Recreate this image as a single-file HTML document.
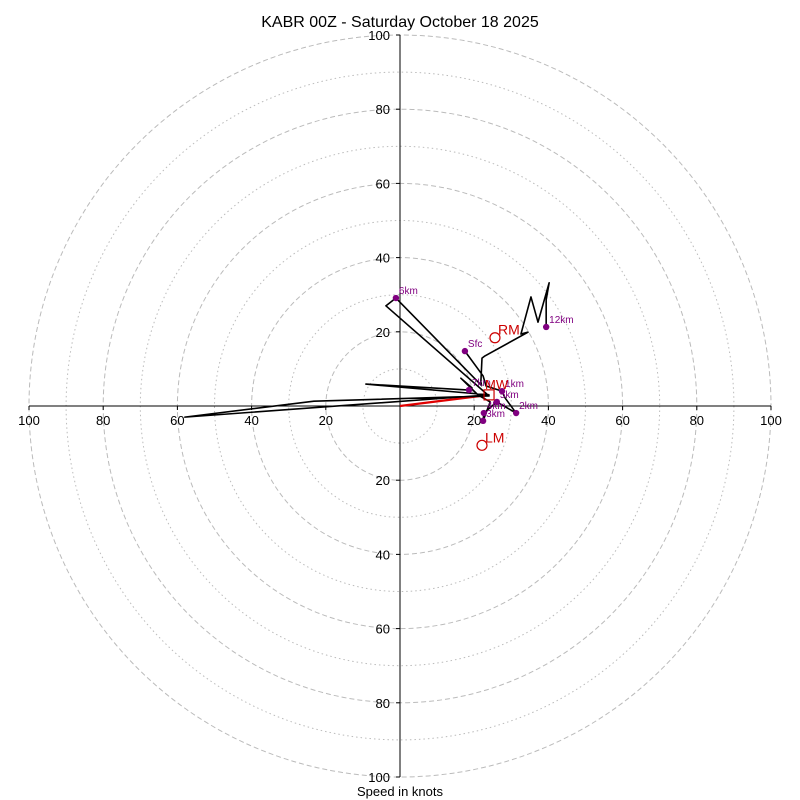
<!DOCTYPE html>
<html><head><meta charset="utf-8"><style>
body{margin:0;background:#fff;}
svg{display:block;font-family:"Liberation Sans",sans-serif;}
</style></head><body>
<svg id="c" width="800" height="800"></svg>
<script>
const hodoU=[17.5,22.4,23.2,27.5,28.3,31.3,26.1,22.6,22.4,24.3,21.0,16.4,19.4,18.6,-9.2,24.0,-58.0,-23.2,24.0,-3.8,-1.1,22.0,21.8,22.1,22.9,34.5,32.6,35.3,37.2,40.2,39.4,39.4];
const hodoV=[14.8,8.1,5.4,4.0,2.2,-1.9,1.1,-1.9,-4.0,1.1,3.0,7.5,4.9,4.3,5.9,3.0,-3.0,1.3,2.7,27.0,29.1,5.5,6.5,12.9,13.5,19.9,19.4,29.4,22.6,33.2,28.6,22.0];
const dotLabels=["Sfc","1km","2km","3km","4km","5km","6km","7km","12km"];
const dotU=[17.5,27.5,31.3,22.4,22.6,26.1,-1.1,18.6,39.4];
const dotV=[14.8,4.0,-1.9,-4.0,-1.9,1.1,29.1,4.3,21.3];
const meanU=[0,24.0];
const meanV=[0,3.0];
const rmU=25.6, rmV=18.4, lmU=22.1, lmV=-10.6, mwU=24.0, mwV=3.0;
const tickVals=[100,80,60,40,20];

const svg=document.getElementById('c');
const NS='http://www.w3.org/2000/svg';
const cx=400, cy=406, R=371, maxV=100;
const sx=u=>cx+u*R/maxV, sy=v=>cy-v*R/maxV;
function mk(t,a,p){const e=document.createElementNS(NS,t);for(const k in a)e.setAttribute(k,a[k]);(p||svg).appendChild(e);return e;}

for(let v=10;v<=100;v+=10){
  const e=mk('circle',{cx:cx,cy:cy,r:v*R/maxV,fill:'none',stroke:'#bbb','stroke-width':1,'stroke-dasharray':v%20==0?'5,3':'1.5,3'});
  
  
}
let ax=mk('line',{x1:cx,y1:sy(100),x2:cx,y2:sy(-100),stroke:'#000','stroke-width':1});


ax=mk('line',{x1:sx(-100),y1:cy,x2:sx(100),y2:cy,stroke:'#000','stroke-width':1});


tickVals.forEach(t=>{
  [[sx(-t),cy+15],[sx(t),cy+15]].forEach(p=>{
    mk('line',{x1:p[0],y1:cy,x2:p[0],y2:cy+4,stroke:'#000'});
    const e=mk('text',{x:p[0],y:p[1]+4,'text-anchor':'middle','font-size':13});e.textContent=t;
    
    
  });
  [sy(t),sy(-t)].forEach(y=>{
    mk('line',{x1:cx-4,y1:y,x2:cx,y2:y,stroke:'#000'});
    const e=mk('text',{x:cx-10,y:y+5,'text-anchor':'end','font-size':13});e.textContent=t;
    
    
  });
});
let m=mk('polyline',{points:meanU.map((u,i)=>sx(u)+','+sy(meanV[i])).join(' '),fill:'none',stroke:'#e00000','stroke-width':2.2});


let h=mk('polyline',{points:hodoU.map((u,i)=>sx(u)+','+sy(hodoV[i])).join(' '),fill:'none',stroke:'#000','stroke-width':1.6,'stroke-linejoin':'round'});


dotU.forEach((u,i)=>{
  const d=mk('circle',{cx:sx(u),cy:sy(dotV[i]),r:3.2,fill:'#800080'});
  
  
  const t=mk('text',{x:sx(u)+3,y:sy(dotV[i])-4,'font-size':10,fill:'#800080'});t.textContent=dotLabels[i];
  
  
});
[[rmU,rmV,'RM'],[lmU,lmV,'LM']].forEach(p=>{
  const c=mk('circle',{cx:sx(p[0]),cy:sy(p[1]),r:5,fill:'none',stroke:'#c00','stroke-width':1.2});
  
  
  const t=mk('text',{x:sx(p[0])+3,y:sy(p[1])-3,'font-size':14,fill:'#c00'});t.textContent=p[2];
  
  
});
const sq=mk('rect',{x:sx(mwU)-5,y:sy(mwV)-5,width:10,height:10,fill:'none',stroke:'#c00','stroke-width':1.2});


const mwt=mk('text',{x:sx(mwU)-4,y:sy(mwV)-6,'font-size':13,fill:'#c00'});mwt.textContent='MW';


const ti=mk('text',{x:400,y:27,'text-anchor':'middle','font-size':16});ti.textContent='KABR 00Z - Saturday October 18 2025';


const xl=mk('text',{x:400,y:796,'text-anchor':'middle','font-size':13});xl.textContent='Speed in knots';


</script>
</body></html>
